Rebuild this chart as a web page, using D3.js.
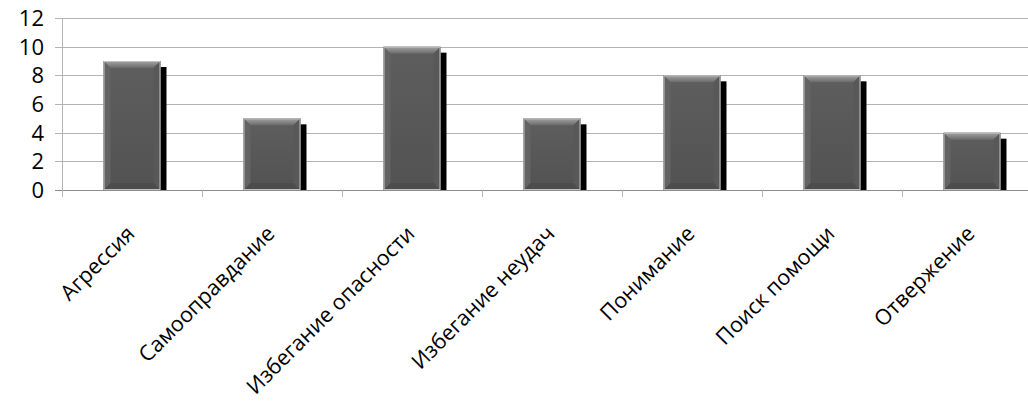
<!DOCTYPE html>
<html>
<head>
<meta charset="utf-8">
<script src="https://cdn.jsdelivr.net/npm/d3@7"></script>
<style>
  html, body { margin: 0; padding: 0; background: #fff; }
  svg { display: block; font-family: "Open Sans", sans-serif; }
</style>
</head>
<body>
<svg id="chart" width="1028" height="402"></svg>
<script>
// Coping strategies and their scores
const categories = ["Агрессия", "Самооправдание", "Избегание опасности", "Избегание неудач", "Понимание", "Поиск помощи", "Отвержение"];
const values = [9, 5, 10, 5, 8, 8, 4];
const yTicks = [0, 2, 4, 6, 8, 10, 12];

const svg = d3.select("#chart");
const margin = { left: 62, top: 18, bottom: 212 };
const plotW = 980, plotH = 402 - margin.top - margin.bottom;

const x = d3.scaleBand().domain(categories).range([margin.left, margin.left + plotW]).paddingInner(0.593).paddingOuter(0.2965);
const y = d3.scaleLinear().domain([0, 12]).range([margin.top + plotH, margin.top]);

const defs = svg.append("defs");
const gTop = defs.append("linearGradient").attr("id", "bevTop").attr("x1", 0).attr("y1", 0).attr("x2", 0).attr("y2", 1);
gTop.append("stop").attr("offset", "0%").attr("stop-color", "#a4a4a4");
gTop.append("stop").attr("offset", "100%").attr("stop-color", "#6a6a6a");
const gBody = defs.append("linearGradient").attr("id", "body").attr("x1", 0).attr("y1", 0).attr("x2", 0).attr("y2", 1);
gBody.append("stop").attr("offset", "0%").attr("stop-color", "#5e5e5e");
gBody.append("stop").attr("offset", "100%").attr("stop-color", "#525252");

// Horizontal gridlines with short ticks on the left
svg.append("g").selectAll("line").data(yTicks).join("line")
  .attr("x1", margin.left - 7).attr("x2", margin.left + plotW)
  .attr("y1", d => Math.round(y(d)) + 0.5).attr("y2", d => Math.round(y(d)) + 0.5)
  .attr("stroke", d => d === 0 ? "#8c8c8c" : "#b3b3b3").attr("stroke-width", 1);

// Vertical axis line
svg.append("line")
  .attr("x1", margin.left + 0.5).attr("x2", margin.left + 0.5)
  .attr("y1", y(12)).attr("y2", y(0) + 6)
  .attr("stroke", "#b3b3b3");

// Category boundary ticks
const step = x.step();
svg.append("g").selectAll("line").data(d3.range(categories.length + 1)).join("line")
  .attr("x1", i => Math.round(margin.left + i * step) + 0.5)
  .attr("x2", i => Math.round(margin.left + i * step) + 0.5)
  .attr("y1", y(0)).attr("y2", y(0) + 7)
  .attr("stroke", "#b3b3b3");

// Y tick labels
svg.append("g").selectAll("text").data(yTicks).join("text")
  .attr("x", 44).attr("y", d => y(d)).attr("dy", "0.36em")
  .attr("text-anchor", "end").attr("font-size", 22).attr("fill", "#000")
  .text(d => d);

// Bars
const bev = 7;
const bars = svg.append("g").selectAll("g").data(categories.map((c, i) => ({ c, v: values[i] }))).join("g");
bars.append("rect")
  .attr("x", d => x(d.c) + 6).attr("y", d => y(d.v) + 6)
  .attr("width", x.bandwidth()).attr("height", d => y(0) - y(d.v) - 6)
  .attr("fill", "#000");
bars.append("rect")
  .attr("x", d => x(d.c)).attr("y", d => y(d.v))
  .attr("width", x.bandwidth()).attr("height", d => y(0) - y(d.v))
  .attr("fill", "url(#body)");
// Bevel facets: top, bottom, left, right
bars.append("path").attr("fill", "url(#bevTop)").attr("d", d => {
  const x0 = x(d.c), x1 = x0 + x.bandwidth(), t = y(d.v);
  return `M${x0},${t}L${x1},${t}L${x1 - bev},${t + bev}L${x0 + bev},${t + bev}Z`;
});
bars.append("path").attr("fill", "#4c4c4c").attr("d", d => {
  const x0 = x(d.c), x1 = x0 + x.bandwidth(), b = y(0);
  return `M${x0},${b}L${x1},${b}L${x1 - bev},${b - bev}L${x0 + bev},${b - bev}Z`;
});
bars.append("path").attr("fill", "#636363").attr("d", d => {
  const x0 = x(d.c), t = y(d.v), b = y(0);
  return `M${x0},${t}L${x0 + bev},${t + bev}L${x0 + bev},${b - bev}L${x0},${b}Z`;
});
bars.append("path").attr("fill", "#585858").attr("d", d => {
  const x1 = x(d.c) + x.bandwidth(), t = y(d.v), b = y(0);
  return `M${x1},${t}L${x1 - bev},${t + bev}L${x1 - bev},${b - bev}L${x1},${b}Z`;
});
bars.append("rect")
  .attr("x", d => x(d.c) + 0.5).attr("y", d => y(d.v) + 0.5)
  .attr("width", x.bandwidth() - 1).attr("height", d => y(0) - y(d.v) - 1)
  .attr("fill", "none").attr("stroke", "#c0c0c0").attr("stroke-width", 1);

// Rotated category labels
svg.append("g").selectAll("text").data(categories).join("text")
  .attr("transform", d => `translate(${x(d) + x.bandwidth() / 2 + 4},${y(0) + 45}) rotate(-45)`)
  .attr("text-anchor", "end").attr("font-size", 21.5).attr("fill", "#000")
  .text(d => d);
</script>
</body>
</html>
